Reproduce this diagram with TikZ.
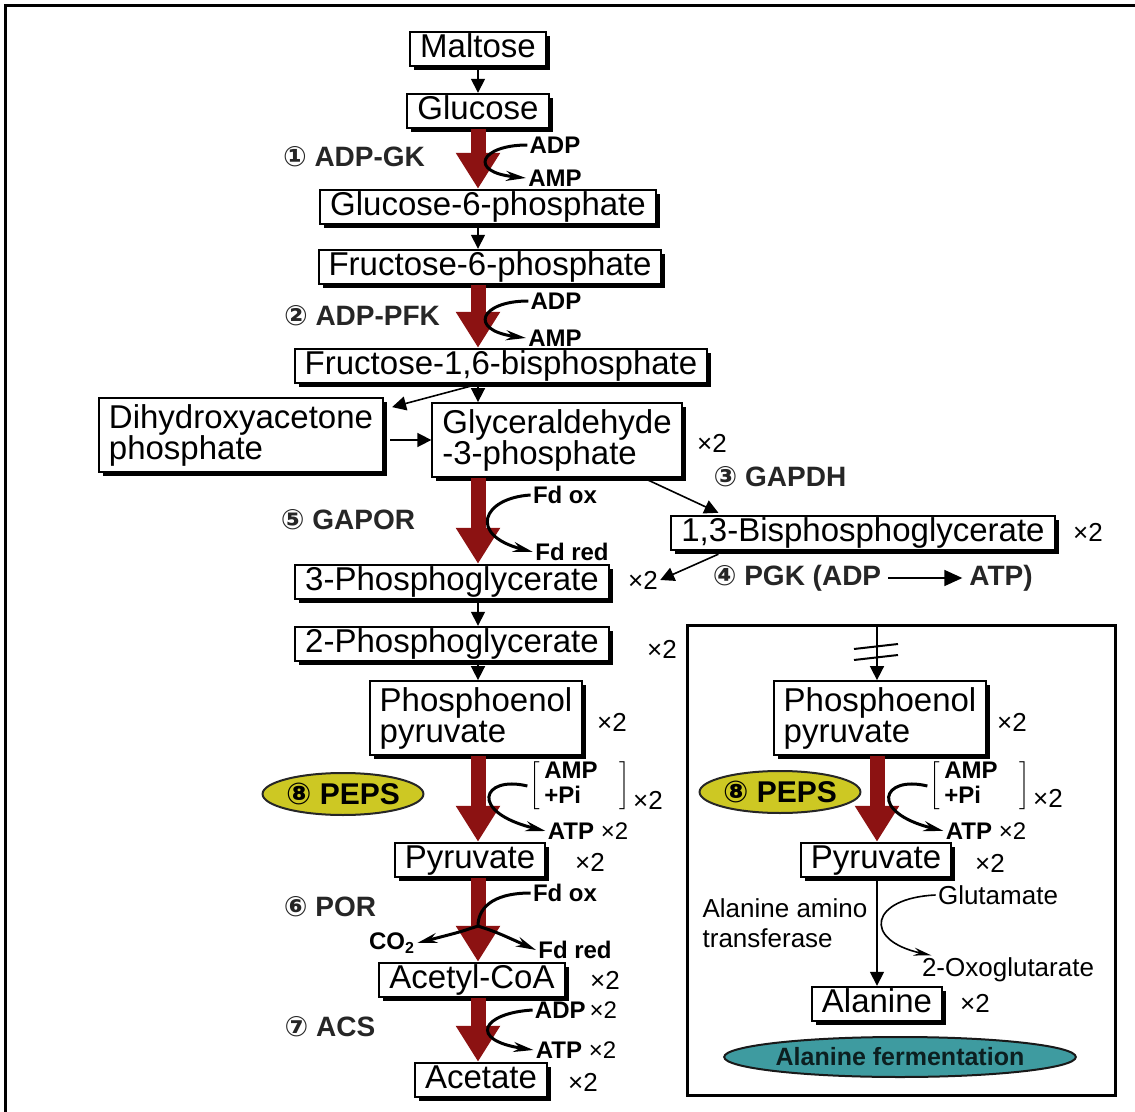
\documentclass[tikz,border=0pt]{standalone}
\usepackage{fontspec}
\setmainfont{Liberation Sans}
\newfontfamily\circfont{DejaVu Sans}
\usetikzlibrary{arrows.meta,shadows,calc,shapes.geometric}

\definecolor{pathred}{RGB}{140,18,18}
\definecolor{pepsyellow}{RGB}{205,200,35}
\definecolor{fermteal}{RGB}{62,155,160}

\newcommand{\cnum}[1]{{\circfont\bfseries #1}}
\newcommand{\ampbracket}{\(\left[\begin{tabular}{@{\hspace{2pt}}l@{\hspace{11pt}}}AMP\\+Pi\end{tabular}\right]\)}

\begin{document}
\begin{tikzpicture}[
    x=0.5pt, y=-0.5pt,
    box/.style={draw, line width=1pt, fill=white, inner xsep=5pt, inner ysep=1pt,
        text height=11.8pt, text depth=3.4pt, font=\fontsize{16.5}{18}\selectfont,
        drop shadow={shadow xshift=2pt, shadow yshift=-2pt, fill=black, opacity=1}},
    tallbox/.style={draw, line width=1pt, fill=white, inner xsep=5pt, inner ysep=3pt,
        align=left, font=\fontsize{16.5}{15.5}\selectfont,
        drop shadow={shadow xshift=2pt, shadow yshift=-2pt, fill=black, opacity=1}},
    enzyme/.style={font=\fontsize{14}{16}\selectfont\bfseries, text=black!85},
    cofactor/.style={font=\fontsize{12}{12.5}\selectfont\bfseries, inner sep=1pt},
    times/.style={font=\fontsize{13}{14}\selectfont, inner sep=1pt},
    plain/.style={font=\fontsize{13}{15}\selectfont, inner sep=1pt},
    oval/.style={ellipse, draw=black!85, line width=1pt, fill=pepsyellow, inner sep=0pt,
        minimum width=79pt, minimum height=21pt, font=\fontsize{15}{16}\selectfont\bfseries},
    flow/.style={line width=0.8pt, -{Triangle[length=7pt,width=7pt]}},
    bigarrow/.style={draw=pathred, line width=7.5pt, -{Triangle[length=18pt,width=21pt]}},
    sidearrow/.style={line width=1.5pt, -{Stealth[length=10pt,width=5pt]}}
]
\useasboundingbox (0,0) rectangle (1135,1112);

% outer frame (only left and top edges show)
\draw[line width=1.5pt] (5,1112) -- (5,6) -- (1135,6);

% main pathway
\coordinate (axis) at (478,0);
\node[box] (malt) at (478,49) {Maltose};
\node[box] (glc) at (478,111) {Glucose};
\node[box] (g6p) at (488,207) {Glucose-6-phosphate};
\node[box] (f6p) at (490,267) {Fructose-6-phosphate};
\node[box] (fbp) at (501,366) {Fructose-1,6-bisphosphate};
\node[tallbox] (dhap) at (241,435) {Dihydroxyacetone\\phosphate};
\node[tallbox] (gap) at (557,440) {Glyceraldehyde\\-3-phosphate};
\node[box] (bpg) at (863,533) {1,3-Bisphosphoglycerate};
\node[box] (pg3) at (452,582) {3-Phosphoglycerate};
\node[box] (pg2) at (452,644) {2-Phosphoglycerate};
\node[tallbox] (pep) at (476,718) {Phosphoenol\\pyruvate};
\node[box] (pyr) at (470,860) {Pyruvate};
\node[box] (acoa) at (472,980) {Acetyl-CoA};
\node[box] (acet) at (481,1080) {Acetate};

% stoichiometry
\node[times] (gapx) at (712,443) {×2};
\node[times] (bpgx) at (1088,532) {×2};
\node[times] (pg3x) at (643,580) {×2};
\node[times] (pg2x) at (662,649) {×2};
\node[times] (pepx) at (612,722) {×2};
\node[times] (pyrx) at (590,862) {×2};
\node[times] (acoax) at (605,980) {×2};
\node[times] (acetx) at (583,1082) {×2};

% enzymes
\node[enzyme] (gk) at (354,157) {\cnum{①} ADP-GK};
\node[enzyme] (pfk) at (362,316) {\cnum{②} ADP-PFK};
\node[enzyme] (gapdh) at (780,477) {\cnum{③} GAPDH};
\node[enzyme] (pgkA) at (797,578) {\cnum{④} PGK (ADP};
\node[enzyme] (pgkB) at (1001,578) {ATP)};
\node[enzyme] (gapor) at (348,520) {\cnum{⑤} GAPOR};
\node[enzyme] (por) at (330,907) {\cnum{⑥} POR};
\node[enzyme] (acs) at (330,1027) {\cnum{⑦} ACS};
\node[oval] (peps) at (343,794) {\cnum{⑧} PEPS};

% cofactors
\node[cofactor] (adp1) at (555,145) {ADP};
\node[cofactor] (amp1) at (555,178) {AMP};
\node[cofactor] (adp2) at (556,301) {ADP};
\node[cofactor] (amp2) at (555,338) {AMP};
\node[cofactor] (fdox5) at (565,495) {Fd ox};
\node[cofactor] (fdred5) at (572,552) {Fd red};
\node[cofactor] (amp8) at (580,786) {\ampbracket};
\node[times] (amp8x) at (648,800) {×2};
\node[cofactor] (atp8) at (588,831) {ATP \textmd{×2}};
\node[cofactor] (fdox6) at (565,893) {Fd ox};
\node[cofactor] (co2) at (392,943) {CO\textsubscript{2}};
\node[cofactor] (fdred6) at (575,950) {Fd red};
\node[cofactor] (adp7) at (576,1010) {ADP\,\textmd{×2}};
\node[cofactor] (atp7) at (576,1050) {ATP \textmd{×2}};

% plain arrows
\draw[flow] (malt.south) -- (glc.north);
\draw[flow] (g6p.south -| axis) -- (f6p.north -| axis);
\draw[flow] (fbp.south -| axis) -- (gap.north -| axis);
\draw[flow] (fbp.south -| axis) -- ($(dhap.north east)+(8,10)$);
\draw[flow] ($(dhap.east |- gap.west)+(6,0)$) -- (gap.west);
\draw[flow] ($(gap.south east)+(-35,2)$) -- ($(bpg.north west)+(48,-2)$);
\draw[flow] ($(bpg.south west)+(48,3)$) -- (pg3x.east);
\draw[flow] (pg3.south -| axis) -- (pg2.north -| axis);
\draw[flow] (pg2.south -| axis) -- (pep.north -| axis);
\draw[line width=0.8pt, -{Triangle[length=9pt,width=8pt]}] (pgkA.east) -- (pgkB.west);

% enzyme steps (thick red)
\draw[bigarrow] (glc.south) -- (glc.south |- g6p.north);
\draw[bigarrow] (f6p.south -| axis) -- (fbp.north -| axis);
\draw[bigarrow] (gap.south -| axis) -- (pg3.north -| axis);
\draw[bigarrow] (pep.south -| axis) -- (pyr.north -| axis);
\draw[bigarrow] (pyr.south -| axis) -- (acoa.north -| axis);
\draw[bigarrow] (acoa.south -| axis) -- (acet.north -| axis);

% cofactor arrows
\draw[sidearrow] (adp1.west) .. controls (480,145) and (468,172) .. (amp1.west);
\draw[sidearrow] (adp2.west) .. controls (480,301) and (468,330) .. (amp2.west);
\draw[sidearrow] (fdox5.west) .. controls (482,498) and (468,535) .. (fdred5.west);
\draw[sidearrow] (amp8.west) .. controls (482,775) and (468,812) .. (atp8.west);
\coordinate (porc) at (478,926);
\draw[line width=1.5pt] (fdox6.west) .. controls (490,893) and (478,910) .. (porc);
\draw[sidearrow] (porc) .. controls (460,932) .. (co2.east);
\draw[sidearrow] (porc) .. controls (496,932) .. (fdred6.west);
\draw[sidearrow] (adp7.west) .. controls (482,1013) and (468,1040) .. (atp7.west);

% alanine branch
\coordinate (axisR) at (877,0);
\draw[line width=1.5pt] (687,625) rectangle (1115,1095);
\node[tallbox] (pepR) at (880,718) {Phosphoenol\\pyruvate};
\node[times] (pepRx) at (1012,722) {×2};
\node[oval] (pepsR) at (780,792) {\cnum{⑧} PEPS};
\node[cofactor] (ampR) at (980,786) {\ampbracket};
\node[times] (ampRx) at (1048,798) {×2};
\node[cofactor] (atpR) at (986,831) {ATP \textmd{×2}};
\node[box] (pyrR) at (876,860) {Pyruvate};
\node[times] (pyrRx) at (990,863) {×2};
\node[plain, align=left] (alat) at (785,923) {Alanine amino\\transferase};
\node[plain] (glu) at (998,895) {Glutamate};
\node[plain] (oxo) at (1008,970) {2-Oxoglutarate};
\node[box] (ala) at (877,1004) {Alanine};
\node[times] (alax) at (975,1003) {×2};
\node[ellipse, draw=black!90, line width=1pt, fill=fermteal, inner sep=0pt,
    minimum width=160pt, minimum height=20pt,
    font=\fontsize{12.5}{14}\selectfont\bfseries, text=black!80!fermteal] (ferm) at (900,1057) {Alanine fermentation};

\coordinate (cut) at (877,625);
\draw[flow] (cut) -- (pepR.north -| axisR);
\draw[line width=1pt] (854,649) -- (898,644);
\draw[line width=1pt] (854,660) -- (898,655);
\draw[bigarrow] (pepR.south -| axisR) -- (pyrR.north -| axisR);
\draw[sidearrow] (ampR.west) .. controls (882,775) and (868,812) .. (atpR.west);
\draw[flow] (pyrR.south -| axisR) -- (ala.north -| axisR);
\draw[line width=0.8pt, -{Stealth[length=9pt,width=4pt]}] (glu.west) .. controls (870,898) and (862,940) .. ([xshift=6pt]oxo.north west);

\end{tikzpicture}
\end{document}
